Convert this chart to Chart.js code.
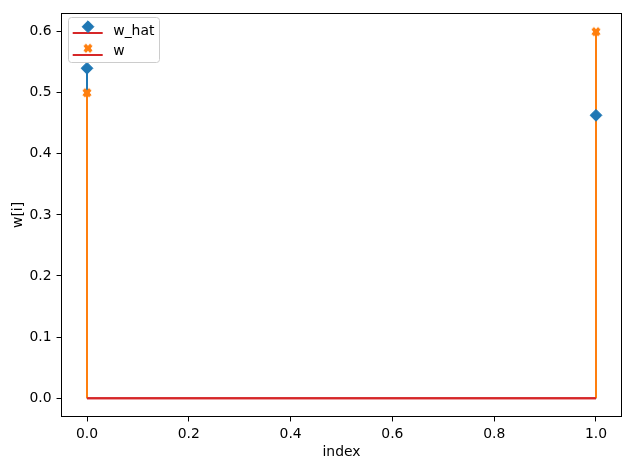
<!DOCTYPE html>
<html>
<head>
<meta charset="utf-8">
<script src="https://cdn.jsdelivr.net/npm/chart.js@4"></script>
<style>
  body { margin:0; background:#fff }
  canvas { display:block }
</style>
</head>
<body>
<canvas id="chart" width="630" height="470"></canvas>
<script>
const indexes = [0, 1]
const w_hat = [0.54, 0.463]
const w = [0.5, 0.6]
const names = ["w_hat", "w"]
const xTicks = [0.0, 0.2, 0.4, 0.6, 0.8, 1.0]
const yTicks = [0.0, 0.1, 0.2, 0.3, 0.4, 0.5, 0.6]

const blue = "#1f77b4"
const orange = "#ff7f0e"
const red = "#d62728"

/** Filled X marker (matplotlib "X"). */
function xMarker(size, color) {
  const c = document.createElement("canvas")
  c.width = c.height = 12
  const ctx = c.getContext("2d")
  const pts = [[0.25,0],[0.5,0.25],[0.75,0],[1,0.25],[0.75,0.5],[1,0.75],[0.75,1],[0.5,0.75],[0.25,1],[0,0.75],[0.25,0.5],[0,0.25]]
  ctx.beginPath()
  pts.forEach(([px, py], i) => {
    const x = 6 + (px - 0.5) * size, y = 6 + (py - 0.5) * size
    i ? ctx.lineTo(x, y) : ctx.moveTo(x, y)
  })
  ctx.closePath()
  ctx.fillStyle = color
  ctx.strokeStyle = color
  ctx.lineWidth = 1
  ctx.fill()
  ctx.stroke()
  return c
}
const xImage = xMarker(8.3, orange)

function stems(values, color, order) {
  return indexes.map((x, i) => ({
    data:[{x, y:0}, {x, y:values[i]}],
    borderColor:color, borderWidth:2, pointRadius:0, order, showLine:true
  }))
}

function baseline(order) {
  return {data:[{x:indexes[0], y:0}, {x:indexes[indexes.length - 1], y:0}], borderColor:red, borderWidth:2, pointRadius:0, order, showLine:true}
}

const datasets = [
  ...stems(w_hat, blue, 8),
  baseline(7),
  ...stems(w, orange, 6),
  baseline(5),
  {data:indexes.map((x, i) => ({x, y:w_hat[i]})), showLine:false, pointStyle:"rectRot", pointRadius:5.9, pointBorderWidth:1, pointBackgroundColor:blue, pointBorderColor:blue, order:2},
  {data:indexes.map((x, i) => ({x, y:w[i]})), showLine:false, pointStyle:xImage, pointRadius:6, order:1},
]

/** Axes frame and legend box. */
const frame = {
  id:"frame",
  afterDraw(chart) {
    const {ctx, chartArea:a} = chart
    ctx.save()
    ctx.strokeStyle = "#000"
    ctx.lineWidth = 1
    const l = Math.floor(a.left) + 0.5, t = Math.floor(a.top) + 0.5
    const r = Math.ceil(a.right) - 0.5, b = Math.ceil(a.bottom) - 0.5
    ctx.strokeRect(l, t, r - l, b - t)
    // legend
    ctx.beginPath()
    ctx.roundRect(68.5, 17.5, 91, 45, 3)
    ctx.fillStyle = "rgba(255,255,255,0.8)"
    ctx.fill()
    ctx.strokeStyle = "#cccccc"
    ctx.stroke()
    const rows = [26.7, 48.3]
    rows.forEach((y, i) => {
      ctx.strokeStyle = red
      ctx.lineWidth = 2
      ctx.beginPath()
      ctx.moveTo(72.7, Math.round(y + 6.5))
      ctx.lineTo(102.7, Math.round(y + 6.5))
      ctx.stroke()
      if (i === 0) {
        ctx.beginPath()
        ctx.moveTo(88 - 5.9, y); ctx.lineTo(88, y - 5.9); ctx.lineTo(88 + 5.9, y); ctx.lineTo(88, y + 5.9)
        ctx.closePath()
        ctx.fillStyle = blue
        ctx.strokeStyle = blue
        ctx.lineWidth = 1
        ctx.fill()
        ctx.stroke()
      }
      else
        ctx.drawImage(xImage, 88 - 6, y - 6)
      ctx.fillStyle = "#000"
      ctx.font = "13.9px 'DejaVu Sans'"
      ctx.textBaseline = "alphabetic"
      ctx.fillText(names[i], 113.3, [35, 55.3][i])
    })
    ctx.restore()
  }
}

Chart.defaults.font.family = "'DejaVu Sans', sans-serif"
Chart.defaults.font.size = 13.9
Chart.defaults.color = "#000"

new Chart(document.getElementById("chart"), {
  type:"scatter",
  data:{datasets},
  plugins:[frame],
  options:{
    responsive:false,
    animation:false,
    layout:{padding:{top:10.4545, right:8.55, left:0, bottom:0}},
    plugins:{legend:{display:false}, tooltip:{enabled:false}},
    scales:{
      x:{
        type:"linear", min:-0.05, max:1.05,
        afterBuildTicks(scale) { scale.ticks = xTicks.map(value => ({value})) },
        afterFit(scale) { scale.height = 53.5455 },
        ticks:{padding:5, callback:v => v.toFixed(1), maxRotation:0, autoSkip:false},
        grid:{drawOnChartArea:false, tickLength:5, tickColor:"#000", tickWidth:1},
        border:{display:false},
        title:{display:true, text:"index", padding:{top:0, bottom:9.5}}
      },
      y:{
        type:"linear", min:-0.03, max:0.63,
        afterBuildTicks(scale) { scale.ticks = yTicks.map(value => ({value})) },
        afterFit(scale) { scale.width = 61.55 },
        ticks:{padding:5, callback:v => v.toFixed(1), autoSkip:false},
        grid:{drawOnChartArea:false, tickLength:5, tickColor:"#000", tickWidth:1},
        border:{display:false},
        title:{display:true, text:"w[i]", padding:{top:10, bottom:0}}
      }
    }
  }
})
</script>
</body>
</html>
